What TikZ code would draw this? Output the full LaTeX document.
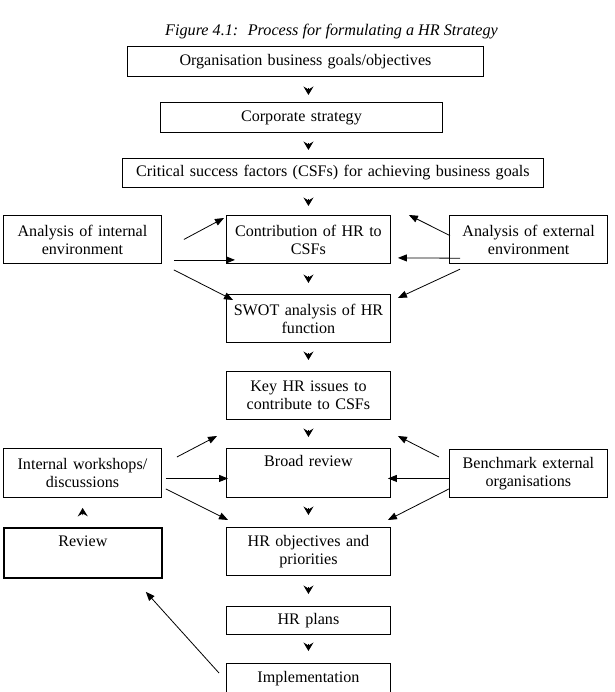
\documentclass[tikz,border=0pt]{standalone}
\usepackage{fontspec}
\setmainfont{Liberation Serif}
\usetikzlibrary{arrows.meta}
\begin{document}
\begin{tikzpicture}[x=1pt,y=-1pt,
  box/.style={draw, line width=0.9pt, inner xsep=3pt, inner ysep=0pt, align=center,
    anchor=north west, font=\fontsize{16.1}{18}\selectfont},
  vtip/.style 2 args={-{Stealth[length=8.5pt,width=10pt,inset=3pt]}, line width=0.9pt,
    shorten <=#1, shorten >=#2},
  sarrow/.style={-{Triangle[length=9pt,width=7pt]}, line width=0.8pt}
]
\useasboundingbox (0,0) rectangle (614,692);

\node[font=\itshape\fontsize{16.2}{18}\selectfont] (title) at (331.5,32)
  {Figure 4.1:~ Process for formulating a HR Strategy};

\node[box, minimum width=356pt, minimum height=30pt, text width=350pt] (b1) at (127,46)
  {Organisation business goals/objectives};
\node[box, minimum width=282pt, minimum height=30pt, text width=276pt] (b2) at (160,102)
  {Corporate strategy};
\node[box, minimum width=421pt, minimum height=29pt, text width=415pt] (b3) at (122,158)
  {Critical success factors (CSFs) for achieving business goals};

\node[box, minimum width=158pt, minimum height=48pt, text width=152pt] (intl) at (3,215)
  {Analysis of internal\\environment};
\node[box, minimum width=164pt, minimum height=48pt, text width=158pt] (contrib) at (226,215)
  {Contribution of HR to\\CSFs};
\node[box, line width=1.2pt, minimum width=158pt, minimum height=48pt, text width=152pt] (extl) at (449,215)
  {Analysis of external\\environment};

\node[box, minimum width=164pt, minimum height=48pt, text width=158pt] (swot) at (226,294)
  {SWOT analysis of HR\\function};
\node[box, minimum width=164pt, minimum height=48pt, text width=158pt] (keyhr) at (226,371)
  {Key HR issues to\\contribute to CSFs};

\node[box, minimum width=158pt, minimum height=49pt, text width=152pt] (iw) at (3,448)
  {Internal workshops/\\discussions};
\node[box, minimum width=164pt, minimum height=49pt, text width=158pt] (broad) at (226,448)
  {Broad review\\\strut};
\node[box, minimum width=158pt, minimum height=48pt, text width=152pt] (bench) at (449,449)
  {Benchmark external\\organisations};

\node[box, line width=1.8pt, minimum width=158pt, minimum height=50pt, text width=152pt] (review) at (3,527)
  {Review\\\strut};
\node[box, minimum width=164pt, minimum height=48pt, text width=158pt] (obj) at (226,527)
  {HR objectives and\\priorities};
\node[box, minimum width=164pt, minimum height=28pt, text width=158pt] (plans) at (226,606)
  {HR plans};
\node[box, minimum width=164pt, minimum height=30pt, text width=158pt] (impl) at (226,663)
  {Implementation};

% vertical arrowheads
\draw[vtip={11pt}{7pt}] (b1.south -| contrib.north) -- (b2.north -| contrib.north);
\draw[vtip={10pt}{8pt}] (b2.south -| contrib.north) -- (b3.north -| contrib.north);
\draw[vtip={11pt}{9pt}] (b3.south -| contrib.north) -- (contrib.north);
\draw[vtip={12pt}{11pt}] (contrib.south) -- (swot.north);
\draw[vtip={10pt}{11pt}] (swot.south) -- (keyhr.north);
\draw[vtip={10pt}{11pt}] (keyhr.south) -- (broad.north);
\draw[vtip={10pt}{12pt}] (broad.south) -- (obj.north);
\draw[vtip={11pt}{12pt}] (obj.south) -- (plans.north);
\draw[vtip={9pt}{12pt}] (plans.south) -- (impl.north);
\draw[vtip={12pt}{10pt}] (review.north) -- (iw.south);

% row 1 side arrows
\draw[sarrow] ([xshift=22pt]intl.east) -- ([xshift=-2pt,yshift=-3pt]contrib.north west);
\draw[sarrow] ([xshift=12pt,yshift=4pt]intl.south east) -- ([xshift=9pt,yshift=4pt]contrib.south west);
\draw[sarrow] ([xshift=12pt,yshift=-6pt]intl.south east) -- ([xshift=7pt,yshift=-6pt]swot.north west);
\draw[sarrow] ([xshift=1pt,yshift=4pt]extl.west) -- ([xshift=18pt]contrib.north east);
\draw[sarrow] ([xshift=11pt,yshift=6pt]extl.south west) -- ([xshift=7pt,yshift=6pt]contrib.south east);
\draw[sarrow] ([xshift=11pt,yshift=-5pt]extl.south west) -- ([xshift=7pt,yshift=-4pt]swot.north east);

% row 2 side arrows
\draw[sarrow] ([xshift=15pt,yshift=-9pt]iw.north east) -- ([xshift=-9pt,yshift=12pt]broad.north west);
\draw[sarrow] ([xshift=4pt,yshift=-5.5pt]iw.east) -- ([xshift=2pt,yshift=-5.5pt]broad.west);
\draw[sarrow] ([xshift=4pt,yshift=9pt]iw.south east) -- ([xshift=2pt,yshift=7pt]obj.north west);
\draw[sarrow] ([xshift=-10pt,yshift=-8pt]bench.north west) -- ([xshift=7pt,yshift=12pt]broad.north east);
\draw[sarrow] ([yshift=-5pt]bench.west) -- ([xshift=-3pt,yshift=-5.5pt]broad.east);
\draw[sarrow] ([yshift=9pt]bench.south west) -- ([xshift=-3pt,yshift=7pt]obj.north east);

% implementation to review
\draw[sarrow] ([xshift=-7pt,yshift=-10pt]impl.north west) -- ([xshift=-17pt,yshift=-13pt]review.south east);
\end{tikzpicture}
\end{document}
